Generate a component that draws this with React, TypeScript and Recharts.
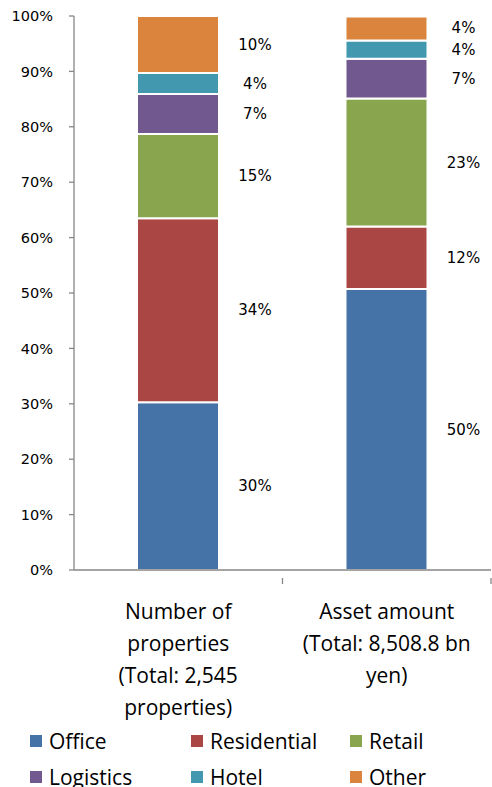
import React from "react";
import { BarChart, Bar, XAxis, YAxis, Legend, LabelList } from "recharts";

const categories = ["Number of properties", "Asset amount"];
const categoryLines = [
  ["Number of", "properties", "(Total: 2,545", "properties)"],
  ["Asset amount", "(Total: 8,508.8 bn", "yen)"],
];

const seriesNames = ["Office", "Residential", "Retail", "Logistics", "Hotel", "Other"];
const office = [30.3, 50.7];
const residential = [33.2, 11.3];
const retail = [15.2, 23.1];
const logistics = [7.2, 7.2];
const hotel = [3.8, 3.3];
const other = [10.3, 4.3];

const officeLabels = ["30%", "50%"];
const residentialLabels = ["34%", "12%"];
const retailLabels = ["15%", "23%"];
const logisticsLabels = ["7%", "7%"];
const hotelLabels = ["4%", "4%"];
const otherLabels = ["10%", "4%"];

const yTicks = [0, 10, 20, 30, 40, 50, 60, 70, 80, 90, 100];
const title = "Funds";

const colors = ["#4572A7", "#AA4643", "#89A54E", "#71588F", "#4198AF", "#DB843D"];
const keys = ["office", "residential", "retail", "logistics", "hotel", "other"];
const labelSets = [officeLabels, residentialLabels, retailLabels, logisticsLabels, hotelLabels, otherLabels];

const data = categories.map((c, i) => ({
  name: c,
  office: office[i],
  residential: residential[i],
  retail: retail[i],
  logistics: logistics[i],
  hotel: hotel[i],
  other: other[i],
}));

const CatTick = (props: any) => {
  const { x, y, payload, index } = props;
  const lines = categoryLines[index] || [String(payload.value)];
  const off = payload.offset || 0;
  return (
    <g>
      <line x1={x + off} x2={x + off} y1={y} y2={y + 6} stroke="#868686" strokeWidth={1.3} />
      <text
        x={x}
        y={y + 41}
        textAnchor="middle"
        fontFamily="'Open Sans', sans-serif"
        fontSize={21}
        fill="#000"
      >
        {lines.map((l, i) => (
          <tspan key={i} x={x} dy={i === 0 ? 0 : 32}>
            {l}
          </tspan>
        ))}
      </text>
    </g>
  );
};

const makeLabel = (labels: string[]) => (props: any) => {
  const { x, y, width, height, index } = props;
  return (
    <text
      x={Number(x) + Number(width) + 36}
      y={Number(y) + Number(height) / 2}
      textAnchor="middle"
      dominantBaseline="central"
      fontFamily="'DejaVu Sans', sans-serif"
      fontSize={15}
      fill="#000"
    >
      {labels[index]}
    </text>
  );
};

const LegendContent = (props: any) => {
  const payload = [...(props.payload || [])].sort(
    (a: any, b: any) => seriesNames.indexOf(a.value) - seriesNames.indexOf(b.value)
  );
  const colX = [30, 191, 350];
  return (
    <div style={{ position: "relative", width: 492, height: 80 }}>
      {payload.map((p: any, i: number) => {
        const col = i % 3;
        const row = Math.floor(i / 3);
        return (
          <div
            key={i}
            style={{
              position: "absolute",
              left: colX[col],
              top: row * 36,
              display: "flex",
              alignItems: "center",
              height: 28,
              fontFamily: "'Open Sans', sans-serif",
              fontSize: 21,
              color: "#000",
              whiteSpace: "nowrap",
            }}
          >
            <span style={{ display: "inline-block", width: 12, height: 12, background: p.color, marginRight: 7 }} />
            {p.value}
          </div>
        );
      })}
    </div>
  );
};

export default function App() {
  return (
    <div style={{ position: "absolute", left: 0, top: 0, width: 492, height: 787, background: "#fff", overflow: "hidden" }}>
      <div
        style={{
          position: "absolute",
          left: 200,
          width: 120,
          top: -19,
          textAlign: "center",
          fontFamily: "'Liberation Serif', serif",
          fontWeight: "bold",
          fontSize: 22,
          lineHeight: "22px",
          color: "#000",
        }}
      >
        {title}
      </div>
      <BarChart
        width={492}
        height={787}
        data={data}
        margin={{ top: 16, right: 1, bottom: 0, left: 0 }}
        barSize={82}
      >
        <XAxis
          dataKey="name"
          axisLine={{ stroke: "#868686", strokeWidth: 1.3 }}
          tickLine={false}
          tick={<CatTick />}
          interval={0}
          height={137}
        />
        <YAxis
          type="number"
          domain={[0, 100]}
          ticks={yTicks}
          width={74}
          tickSize={5}
          tickMargin={16}
          axisLine={{ stroke: "#868686", strokeWidth: 1.3 }}
          tickLine={{ stroke: "#868686", strokeWidth: 1.3 }}
          tickFormatter={(v: number) => `${v}%`}
          tick={{ fontFamily: "'DejaVu Sans', sans-serif", fontSize: 14.5, fill: "#000" }}
          allowDataOverflow
        />
        <Legend
          verticalAlign="bottom"
          content={<LegendContent />}
          wrapperStyle={{ position: "absolute", left: 0, top: 727, width: 492, height: 80 }}
        />
        {keys.map((k, i) => (
          <Bar
            key={k}
            dataKey={k}
            name={seriesNames[i]}
            stackId="a"
            fill={colors[i]}
            stroke="#fff"
            strokeWidth={2}
            isAnimationActive={false}
          >
            <LabelList dataKey={k} content={makeLabel(labelSets[i])} />
          </Bar>
        ))}
      </BarChart>
    </div>
  );
}
